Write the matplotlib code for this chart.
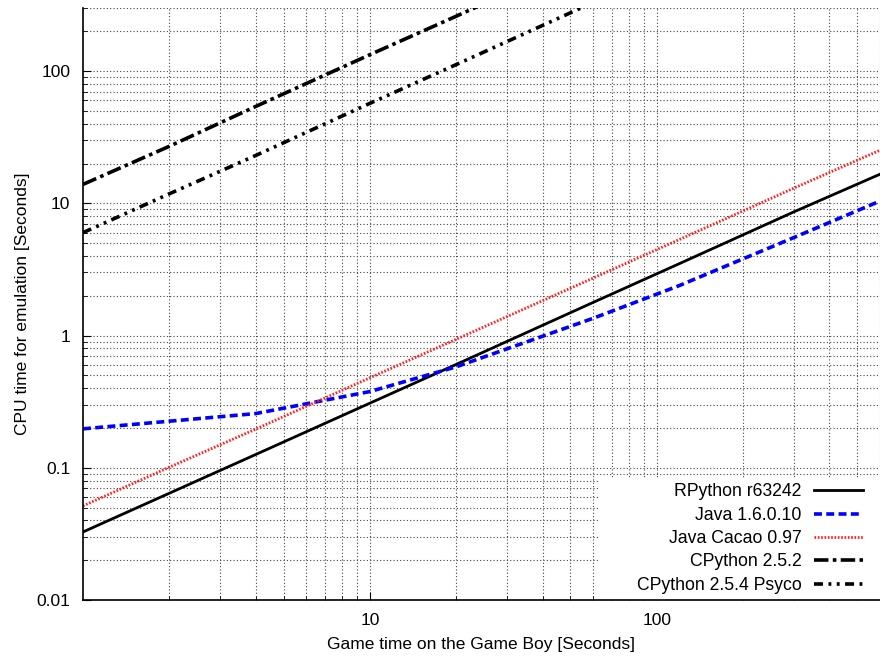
import matplotlib.pyplot as plt
from matplotlib.patches import Rectangle
import numpy as np

plt.rcParams['font.family'] = ['Liberation Sans', 'DejaVu Sans']

# game time on the Game Boy [s]
game_time = [1, 2, 4, 10, 20, 60, 120, 300, 600]

rpython = [0.0327, 0.0642, 0.126, 0.308, 0.605, 1.78, 3.5, 8.6, 16.6]
java = [0.197, 0.225, 0.257, 0.377, 0.58, 1.35, 2.39, 5.5, 10.4]
cacao = [0.0515, 0.101, 0.196, 0.479, 0.937, 2.72, 5.33, 13.0, 25.2]
cpython = [13.9, 27, 54, 133, 260, 770, 1500, 3700, 7400]
psyco = [6.0, 11.8, 23, 57, 112, 330, 650, 1600, 3200]

labels = ["RPython r63242", "Java 1.6.0.10", "Java Cacao 0.97",
          "CPython 2.5.2", "CPython 2.5.4 Psyco"]

fig = plt.figure(figsize=(8.8, 6.6), dpi=100)
ax = fig.add_axes([0.0943, 0.0909, 0.9057, 0.897])

ax.plot(game_time, rpython, color='black', lw=2, ls='-', label=labels[0])
ax.plot(game_time, java, color='#0000ff', lw=2.6, ls=(0, (2.2, 1.2)), label=labels[1])
ax.plot(game_time, cacao, color='#ff2020', lw=2, ls=(0, (0.6, 0.6)), label=labels[2])
ax.plot(game_time, cpython, color='black', lw=2.6, ls=(0, (4, 1.2, 1, 1.2)), label=labels[3])
ax.plot(game_time, psyco, color='black', lw=2.6, ls=(0, (2.5, 1.5, 0.8, 1.5, 0.8, 1.5)), label=labels[4])

ax.set_xscale('log')
ax.set_yscale('log')
ax.set_xlim(1, 600)
ax.set_ylim(0.01, 300)

ax.grid(True, which='both', color='#444444', ls=(0, (1, 2)), lw=0.8)
for s in ['top', 'right']:
    ax.spines[s].set_visible(False)
ax.spines['left'].set_linewidth(1.2)
ax.spines['bottom'].set_linewidth(1.2)

ax.tick_params(which='both', direction='in', labelsize=12.5)
ax.tick_params(which='major', length=6)
ax.tick_params(which='minor', length=3)
ax.tick_params(axis='y', which='major', pad=9)
ax.tick_params(axis='x', which='major', pad=9)
ax.set_xticks([10, 100])
ax.set_xticklabels(['10', '100'])
ax.set_yticks([0.01, 0.1, 1, 10, 100])
ax.set_yticklabels(['0.01', '0.1', '1', '10', '100'])

ax.set_xlabel("Game time on the Game Boy [Seconds]", fontsize=12.5, labelpad=7)
ax.set_ylabel("CPU time for emulation [Seconds]", fontsize=12.5, labelpad=5)

# white key box like gnuplot's
ax.add_patch(Rectangle((0.649, 0.0), 0.351, 0.206, transform=ax.transAxes,
                       facecolor='white', edgecolor='none', zorder=1.8))
leg = ax.legend(loc='lower right', bbox_to_anchor=(0.987, 0.0), markerfirst=False,
                frameon=False, fontsize=12.7, handlelength=2.8, labelspacing=0.36,
                handletextpad=0.7, borderaxespad=0.0, borderpad=0.35)

fig.savefig('out.png', dpi=100)
